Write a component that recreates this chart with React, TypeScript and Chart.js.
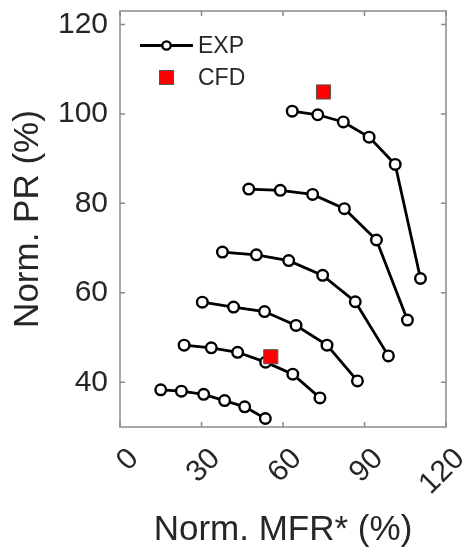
import React, { useEffect, useRef } from "react";
import { Chart, registerables } from "chart.js";

Chart.register(...registerables);

// Axis ticks
const xTicks = [0, 30, 60, 90, 120];
const yTicks = [40, 60, 80, 100, 120];

// EXP speed lines (Norm. MFR* %, Norm. PR %)
const mfr1 = [15.0, 22.6, 30.8, 38.5, 45.9, 53.5];
const pr1 = [38.3, 38.0, 37.3, 35.9, 34.5, 31.9];
const mfr2 = [23.6, 33.6, 43.3, 53.6, 63.6, 73.6];
const pr2 = [48.3, 47.7, 46.7, 44.5, 41.8, 36.5];
const mfr3 = [30.3, 41.8, 53.2, 64.8, 76.2, 87.4];
const pr3 = [57.9, 56.8, 55.8, 52.7, 48.3, 40.3];
const mfr4 = [37.7, 50.2, 62.1, 74.6, 86.6, 98.8];
const pr4 = [69.1, 68.5, 67.2, 63.9, 58.0, 45.9];
const mfr5 = [47.4, 59.0, 70.9, 82.6, 94.4, 105.8];
const pr5 = [83.2, 82.9, 82.0, 78.8, 71.8, 53.9];
const mfr6 = [63.4, 72.8, 82.2, 91.7, 101.3, 110.6];
const pr6 = [100.6, 99.8, 98.2, 94.8, 88.7, 63.2];

// CFD points
const cfdMfr = [74.9, 55.5];
const cfdPr = [104.9, 45.7];

const expLines = [
  [mfr1, pr1],
  [mfr2, pr2],
  [mfr3, pr3],
  [mfr4, pr4],
  [mfr5, pr5],
  [mfr6, pr6],
];

const FONT = '"Liberation Sans", Arial, Helvetica, sans-serif';
const TXT = "#262626";
const AX = "#8a8a8a";

export default function App() {
  const ref = useRef<HTMLCanvasElement>(null);

  useEffect(() => {
    if (!ref.current) return;

    const boxPlugin = {
      id: "boxAndTicks",
      beforeDatasetsDraw(chart: any) {
        const { ctx, chartArea: a, scales } = chart;
        ctx.save();
        ctx.strokeStyle = AX;
        ctx.lineWidth = 1.5;
        ctx.strokeRect(a.left, a.top, a.right - a.left, a.bottom - a.top);
        const tl = 5;
        ctx.beginPath();
        xTicks.forEach((v) => {
          const px = scales.x.getPixelForValue(v);
          ctx.moveTo(px, a.bottom);
          ctx.lineTo(px, a.bottom - tl);
          ctx.moveTo(px, a.top);
          ctx.lineTo(px, a.top + tl);
        });
        yTicks.forEach((v) => {
          const py = scales.y.getPixelForValue(v);
          ctx.moveTo(a.left, py);
          ctx.lineTo(a.left + tl, py);
          ctx.moveTo(a.right, py);
          ctx.lineTo(a.right - tl, py);
        });
        ctx.stroke();
        ctx.restore();
      },
      afterDraw(chart: any) {
        const { ctx, chartArea: a, scales } = chart;
        ctx.save();
        // rotated x tick labels
        ctx.fillStyle = TXT;
        ctx.font = `30px ${FONT}`;
        ctx.textAlign = "right";
        ctx.textBaseline = "middle";
        xTicks.forEach((v) => {
          const px = scales.x.getPixelForValue(v);
          ctx.save();
          ctx.translate(px + 14, a.bottom + 27);
          ctx.rotate(-Math.PI / 4);
          ctx.fillText(String(v), 0, 0);
          ctx.restore();
        });

        // legend
        const lx0 = a.left + 20;
        const lx1 = a.left + 73;
        const lmx = (lx0 + lx1) / 2;
        const ly1 = a.top + 34.5;
        const ly2 = a.top + 66.5;
        ctx.strokeStyle = "#000";
        ctx.lineWidth = 2.8;
        ctx.beginPath();
        ctx.moveTo(lx0, ly1);
        ctx.lineTo(lx1, ly1);
        ctx.stroke();
        ctx.beginPath();
        ctx.arc(lmx, ly1, 4.2, 0, Math.PI * 2);
        ctx.fillStyle = "#fff";
        ctx.fill();
        ctx.lineWidth = 2.3;
        ctx.stroke();
        ctx.fillStyle = "#ff0000";
        ctx.fillRect(lmx - 7, ly2 - 7, 14, 14);
        ctx.strokeStyle = "#555";
        ctx.lineWidth = 1;
        ctx.strokeRect(lmx - 7, ly2 - 7, 14, 14);
        ctx.fillStyle = TXT;
        ctx.font = `23px ${FONT}`;
        ctx.textAlign = "left";
        ctx.textBaseline = "middle";
        ctx.fillText("EXP", lx1 + 5, ly1 + 1);
        ctx.fillText("CFD", lx1 + 5, ly2 + 1);
        ctx.restore();
      },
    };

    const datasets: any[] = [
      {
        label: "CFD",
        data: cfdMfr.map((x, i) => ({ x, y: cfdPr[i] })),
        showLine: false,
        pointStyle: "rect",
        pointRadius: 10,
        pointBackgroundColor: "#ff0000",
        pointBorderColor: "#555",
        pointBorderWidth: 1,
      },
      ...expLines.map(([xs, ys], k) => ({
        label: k === 0 ? "EXP" : "EXP" + (k + 1),
        data: xs.map((x, i) => ({ x, y: ys[i] })),
        showLine: true,
        borderColor: "#000",
        borderWidth: 2.8,
        pointStyle: "circle",
        pointRadius: 5.3,
        pointBorderWidth: 2.4,
        pointBackgroundColor: "#fff",
        pointBorderColor: "#000",
      })),
    ];

    const chart = new Chart(ref.current, {
      type: "scatter",
      data: { datasets },
      options: {
        responsive: false,
        animation: false,
        devicePixelRatio: 1,
        layout: { padding: { top: 7, right: 19, left: 0, bottom: 0 } },
        plugins: {
          legend: { display: false },
          tooltip: { enabled: false },
        },
        scales: {
          x: {
            type: "linear",
            min: 0,
            max: 120,
            afterBuildTicks: (s: any) => {
              s.ticks = xTicks.map((v) => ({ value: v }));
            },
            afterFit: (s: any) => {
              s.height = 122;
              s.paddingLeft = 0;
              s.paddingRight = 0;
            },
            grid: { display: false, drawTicks: false },
            border: { display: false },
            ticks: { display: false },
            title: {
              display: true,
              text: "Norm. MFR* (%)",
              color: TXT,
              font: { family: FONT, size: 35, lineHeight: 1 },
              padding: { top: 0, bottom: 1 },
            },
          },
          y: {
            type: "linear",
            min: 30,
            max: 123,
            afterBuildTicks: (s: any) => {
              s.ticks = yTicks.map((v) => ({ value: v }));
            },
            afterFit: (s: any) => {
              s.width = 120;
              s.paddingTop = 0;
              s.paddingBottom = 0;
            },
            grid: { display: false, drawTicks: false },
            border: { display: false },
            ticks: {
              color: TXT,
              font: { family: FONT, size: 30 },
              padding: 12,
            },
            title: {
              display: true,
              text: "Norm. PR (%)",
              color: TXT,
              font: { family: FONT, size: 35, lineHeight: 1 },
              padding: { top: 11, bottom: 0 },
            },
          },
        },
      },
      plugins: [boxPlugin],
    });

    return () => chart.destroy();
  }, []);

  return (
    <div style={{ position: "fixed", left: 0, top: 0, width: 465, height: 549 }}>
      <canvas ref={ref} width={465} height={549} style={{ width: 465, height: 549, display: "block" }} />
    </div>
  );
}
